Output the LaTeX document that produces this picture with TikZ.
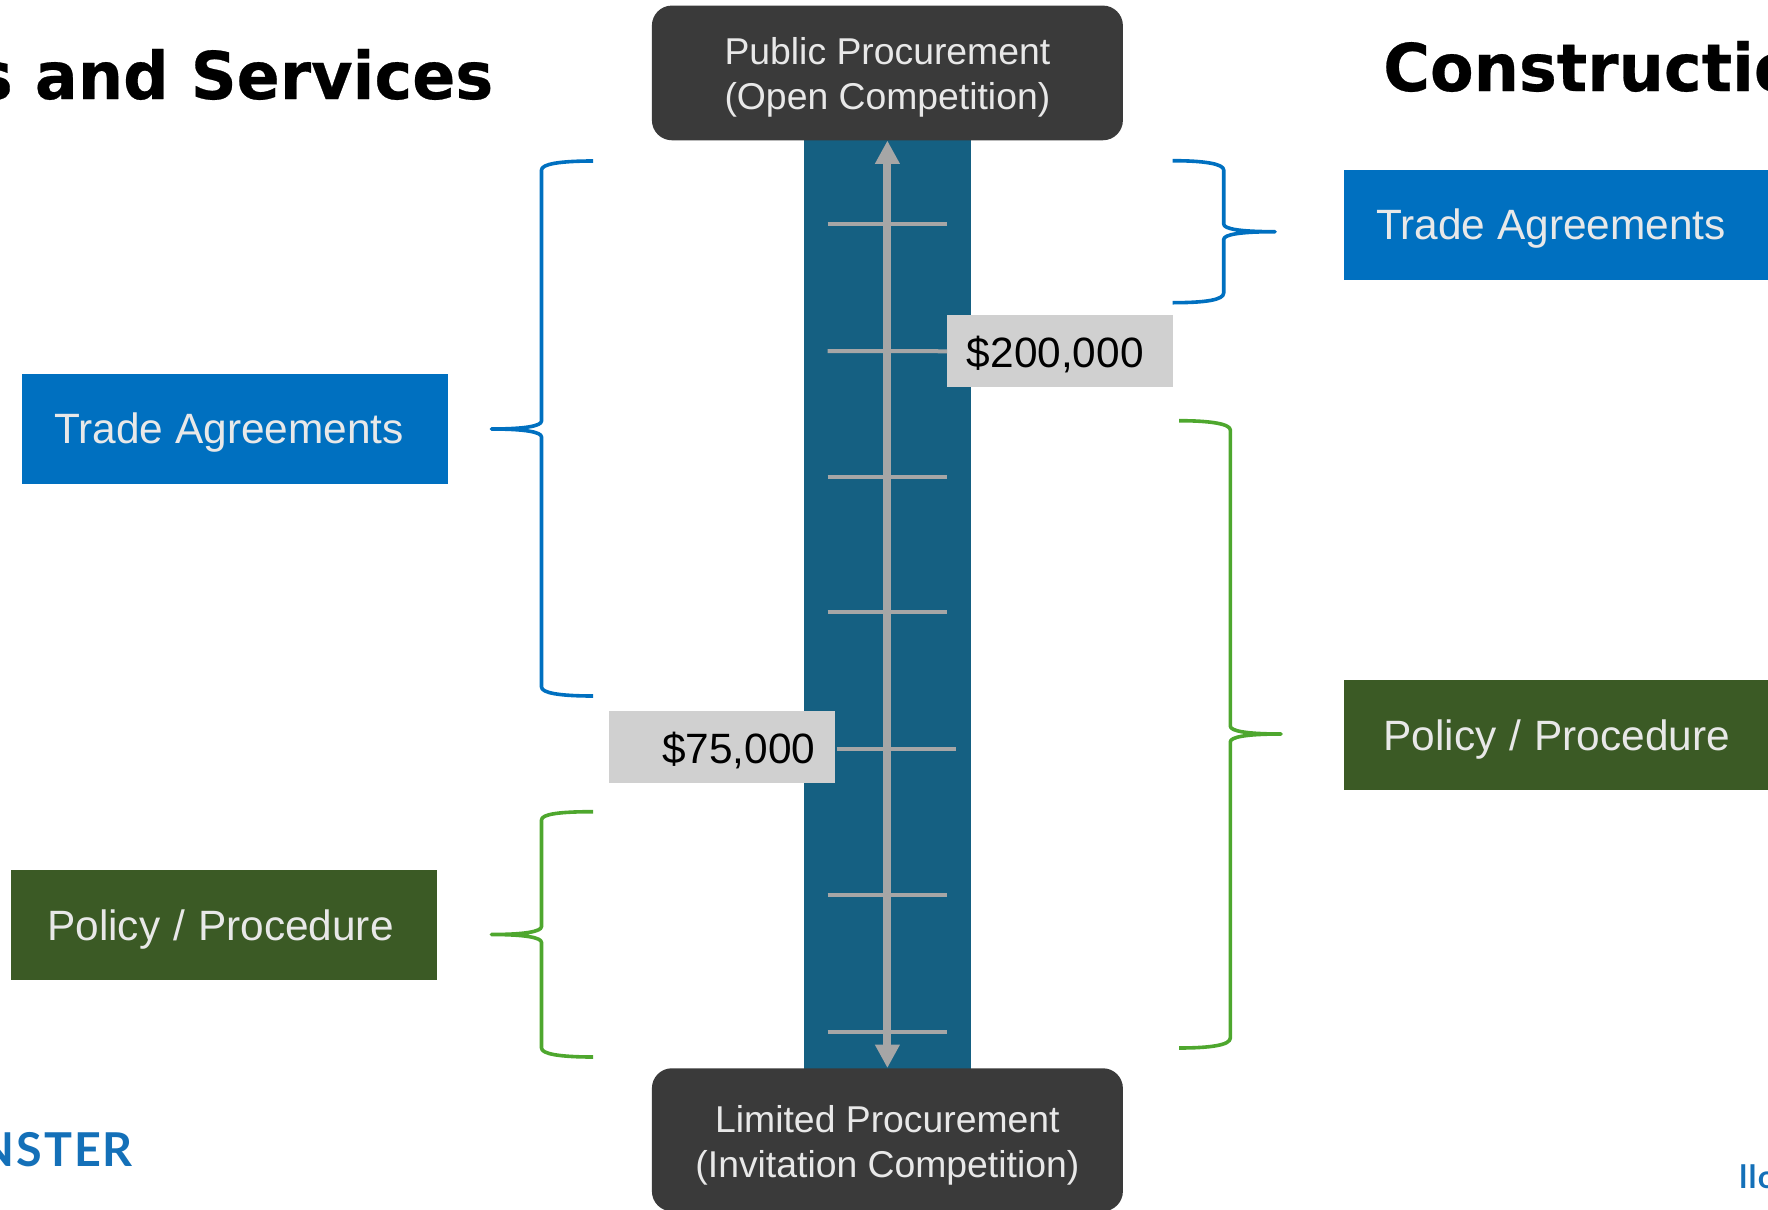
\documentclass[tikz,border=0pt]{standalone}
\usepackage{fontspec}
\setmainfont{Liberation Sans}
\newfontfamily\policyfont[WordSpace=1.1]{Liberation Sans}
\newfontfamily\titlefont[BoldFeatures={FakeStretch=0.966,FakeBold=0.4}]{DejaVu Sans}
\newfontfamily\logofont{Lato}
\usetikzlibrary{arrows.meta}
\definecolor{tradeblue}{HTML}{0070C0}
\definecolor{policygreen}{HTML}{3B5A25}
\definecolor{bracegreen}{HTML}{4EA72E}
\definecolor{darkbox}{HTML}{3A3A3A}
\definecolor{barblue}{HTML}{156082}
\definecolor{scalegrey}{HTML}{A6A6A6}
\definecolor{labelgrey}{HTML}{D0D0D0}
\definecolor{lighttext}{HTML}{E8E8E8}
\definecolor{logoblue}{HTML}{1470B8}
\newcommand{\catlabel}[2]{\makebox[#1][l]{#2}}
\tikzset{
  x=0.75pt,y=-0.75pt,
  endbox/.style={fill=darkbox,rounded corners=15pt,inner sep=0pt,text=lighttext,align=center,
    minimum width={471*0.75pt},font=\fontsize{28}{33.75}\selectfont},
  catbox/.style={anchor=north west,inner ysep=0pt,text=lighttext,
    minimum height={110*0.75pt},text height=22.7pt,text depth=1.6pt,font=\fontsize{31.8}{36}\selectfont},
  policybox/.style={catbox,fill=policygreen,text height=23.3pt,text depth=0pt,
    font=\policyfont\fontsize{31.8}{36}\selectfont},
  amount/.style={anchor=north west,fill=labelgrey,inner ysep=0pt,text=black,
    minimum height={72*0.75pt},text height=24.2pt,text depth=0pt,font=\fontsize{31.8}{36}\selectfont},
  tick/.style={draw=scalegrey,line width=3pt},
  bracket/.style={line width=2.7pt,line join=round},
  title/.style={font=\titlefont\bfseries\fontsize{49.4}{55}\selectfont,text=black,inner sep=0pt},
  logo/.style={text=logoblue,inner sep=0pt}
}
\begin{document}
\begin{tikzpicture}
\useasboundingbox (0,0) rectangle (1768,1210);
\clip (0,0) rectangle (1768,1210);
% bar
\fill[barblue] (804,135) rectangle (971,1075);
% end boxes
\node[endbox,anchor=north,minimum height={134.7*0.75pt}] (open) at (887.4,5.3)
  {\rule{0pt}{27.2pt}Public Procurement\\(Open Competition)};
\node[endbox,anchor=north,minimum height={143*0.75pt}] (limited) at (887.4,1068)
  {\rule{0pt}{28.8pt}Limited Procurement\\(Invitation Competition)};
% amount labels
\node[amount,inner xsep=14.7pt,text width={(226-39.2)*0.75pt},align=left] (l200) at (947,315) {\$200,000};
\node[amount,inner xsep=15pt,text width={(226-40)*0.75pt},align=right] (l75) at (609,711) {\$75,000};
% scale ticks
\coordinate (t1a) at (827.7,223.7); \coordinate (t1b) at (946.7,223.7);
\coordinate (t2a) at (827.7,351);
\coordinate (t3a) at (827.7,477);   \coordinate (t3b) at (946.7,477);
\coordinate (t4a) at (827.7,612.3); \coordinate (t4b) at (946.7,612.3);
\coordinate (t5a) at (836.5,749);   \coordinate (t5b) at (955.5,749);
\coordinate (t6a) at (827.7,895);   \coordinate (t6b) at (946.7,895);
\coordinate (t7a) at (827.7,1032);  \coordinate (t7b) at (946.7,1032);
\draw[tick] (t1a) -- (t1b);
\draw[tick] (t2a) -- (l200.west);
\draw[tick] (t3a) -- (t3b);
\draw[tick] (t4a) -- (t4b);
\draw[tick] (t5a) -- (t5b);
\draw[tick] (t6a) -- (t6b);
\draw[tick] (t7a) -- (t7b);
% double arrow
\draw[draw=scalegrey,line width=6pt,{Triangle[length=17.5pt,width=17.5pt]}-{Triangle[length=17.5pt,width=17.5pt]}]
  (open.south) -- (limited.north);
% category boxes
\node[catbox,fill=tradeblue,inner xsep=24pt] (tradeL) at (22,374) {\catlabel{271.5pt}{Trade Agreements}};
\node[policybox,inner xsep=27pt] (policyL) at (11,870) {\catlabel{265.5pt}{Policy / Procedure}};
\node[catbox,fill=tradeblue,inner xsep=24pt] (tradeR) at (1344,170) {\catlabel{271.5pt}{Trade Agreements}};
\node[policybox,inner xsep=29.5pt] (policyR) at (1344,680) {\catlabel{260.5pt}{Policy / Procedure}};
% braces
\draw[bracket,draw=tradeblue] (593,161) .. controls (560,161) and (541.5,164) .. (541.5,170) -- (541.5,421)
  .. controls (541.5,426) and (525,429) .. (491.5,429) .. controls (525,429) and (541.5,432) .. (541.5,437)
  -- (541.5,687) .. controls (541.5,693) and (560,696) .. (593,696);
\draw[bracket,draw=bracegreen] (593,811.7) .. controls (560,811.7) and (541.5,814) .. (541.5,820) -- (541.5,926.5)
  .. controls (541.5,931.5) and (525,934.5) .. (491.5,934.5) .. controls (525,934.5) and (541.5,937.5) .. (541.5,942.5)
  -- (541.5,1048) .. controls (541.5,1054) and (560,1057) .. (593,1057);
\draw[bracket,draw=tradeblue] (1172.5,160.7) .. controls (1205,160.7) and (1223.7,164) .. (1223.7,170) -- (1223.7,224)
  .. controls (1223.7,229) and (1240,231.7) .. (1275,231.7) .. controls (1240,231.7) and (1223.7,234.5) .. (1223.7,239.5)
  -- (1223.7,293) .. controls (1223.7,300) and (1205,302.7) .. (1172.5,302.7);
\draw[bracket,draw=bracegreen] (1179,420.7) .. controls (1211,420.7) and (1230.3,424) .. (1230.3,430) -- (1230.3,726)
  .. controls (1230.3,731) and (1246,734) .. (1281,734) .. controls (1246,734) and (1230.3,737) .. (1230.3,742)
  -- (1230.3,1038) .. controls (1230.3,1045) and (1211,1048) .. (1179,1048);
% titles
\node[title,anchor=base east] (titleL) at (493.5,99) {s and Services};
\node[title,anchor=base west] (titleR) at (1383,91) {Constructio};
% logos
\node[logo,anchor=base east,font=\logofont\bfseries\fontsize{35}{40}\selectfont\addfontfeature{LetterSpace=4}] (logoL) at (133,1166.7) {NSTER};
\node[logo,anchor=base west,font=\logofont\bfseries\fontsize{24}{28}\selectfont\addfontfeature{LetterSpace=4}] (logoR) at (1739,1188) {llo};
\end{tikzpicture}
\end{document}
